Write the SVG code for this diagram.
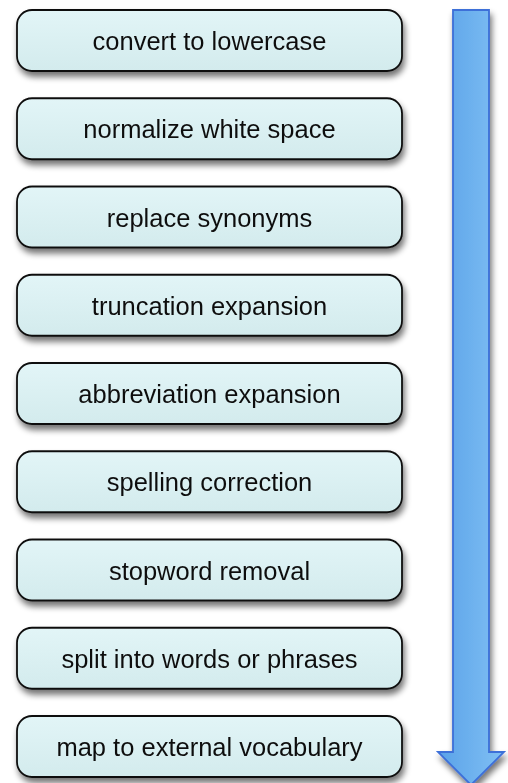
<svg xmlns="http://www.w3.org/2000/svg" width="508" height="783" viewBox="0 0 508 783">
<defs>
<linearGradient id="boxg" x1="0" y1="0" x2="0" y2="1">
<stop offset="0" stop-color="#e2f5f7"/>
<stop offset="1" stop-color="#d3ebed"/>
</linearGradient>
<linearGradient id="arrg" x1="0" y1="0" x2="1" y2="0">
<stop offset="0" stop-color="#5aa2e8"/>
<stop offset="1" stop-color="#80c0f4"/>
</linearGradient>
<filter id="sh" x="-10%" y="-20%" width="125%" height="160%">
<feGaussianBlur in="SourceAlpha" stdDeviation="3"/>
<feOffset dx="2" dy="5" result="b"/>
<feComponentTransfer><feFuncA type="linear" slope="0.55"/></feComponentTransfer>
<feMerge><feMergeNode/><feMergeNode in="SourceGraphic"/></feMerge>
</filter>
</defs>
<style>
.box{fill:url(#boxg);stroke:#111;stroke-width:1.8}
.lbl{font-family:"Liberation Sans",Arial,sans-serif;font-size:25.5px;fill:#111;text-anchor:middle}
.arr{fill:url(#arrg);stroke:#3c6fd8;stroke-width:1.8}
</style>
<g id="connectors">
<path class="arr" filter="url(#sh)" d="M453 10 H489 V752 H504 L471 785 L438 752 H453 Z"/>
</g>
<g id="n1" filter="url(#sh)"><rect class="box" x="17" y="10" width="385" height="61" rx="15"/><text class="lbl" x="209.5" y="50">convert to lowercase</text></g>
<g id="n2" filter="url(#sh)"><rect class="box" x="17" y="98.25" width="385" height="61" rx="15"/><text class="lbl" x="209.5" y="138.25">normalize white space</text></g>
<g id="n3" filter="url(#sh)"><rect class="box" x="17" y="186.5" width="385" height="61" rx="15"/><text class="lbl" x="209.5" y="226.5">replace synonyms</text></g>
<g id="n4" filter="url(#sh)"><rect class="box" x="17" y="274.75" width="385" height="61" rx="15"/><text class="lbl" x="209.5" y="314.75">truncation expansion</text></g>
<g id="n5" filter="url(#sh)"><rect class="box" x="17" y="363" width="385" height="61" rx="15"/><text class="lbl" x="209.5" y="403">abbreviation expansion</text></g>
<g id="n6" filter="url(#sh)"><rect class="box" x="17" y="451.25" width="385" height="61" rx="15"/><text class="lbl" x="209.5" y="491.25">spelling correction</text></g>
<g id="n7" filter="url(#sh)"><rect class="box" x="17" y="539.5" width="385" height="61" rx="15"/><text class="lbl" x="209.5" y="579.5">stopword removal</text></g>
<g id="n8" filter="url(#sh)"><rect class="box" x="17" y="627.75" width="385" height="61" rx="15"/><text class="lbl" x="209.5" y="667.75">split into words or phrases</text></g>
<g id="n9" filter="url(#sh)"><rect class="box" x="17" y="716" width="385" height="61" rx="15"/><text class="lbl" x="209.5" y="756">map to external vocabulary</text></g>
</svg>
